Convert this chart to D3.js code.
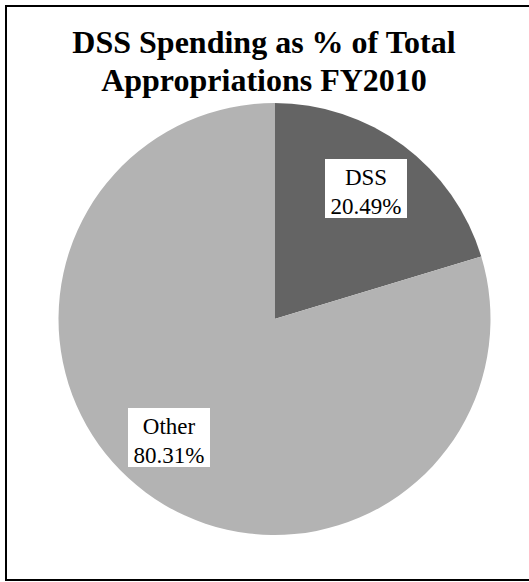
<!DOCTYPE html>
<html>
<head>
<meta charset="utf-8">
<script src="https://cdn.jsdelivr.net/npm/d3@7"></script>
<style>
  html, body { margin: 0; padding: 0; background: #fff; }
  svg { display: block; }
</style>
</head>
<body>
<svg id="chart" width="529" height="582"></svg>
<script>
// Share of FY2010 appropriations
const categories = ["DSS", "Other"];
const shares = [20.49, 80.31];
const shareLabels = ["20.49%", "80.31%"];
const titleLines = ["DSS Spending as % of Total", "Appropriations FY2010"];

const svg = d3.select("#chart");

// outer frame
svg.append("rect")
  .attr("x", 6).attr("y", 6)
  .attr("width", 530).attr("height", 574)
  .attr("fill", "#fff")
  .attr("stroke", "#000")
  .attr("stroke-width", 2);

// title
const title = svg.append("text")
  .attr("text-anchor", "middle")
  .attr("font-family", "'Liberation Serif', 'Times New Roman', serif")
  .attr("font-weight", "bold")
  .attr("font-size", 32)
  .attr("fill", "#000");
titleLines.forEach((t, i) => {
  title.append("tspan")
    .attr("x", 264)
    .attr("y", 53 + i * 38)
    .text(t);
});

// pie
const cx = 274.5, cy = 319, r = 216;
const color = d3.scaleOrdinal().domain(categories).range(["#646464", "#b3b3b3"]);
const pie = d3.pie().sort(null).value(d => d.value);
const data = categories.map((c, i) => ({ name: c, value: shares[i], label: shareLabels[i] }));
const arcs = pie(data);
const arc = d3.arc().innerRadius(0).outerRadius(r);

const g = svg.append("g").attr("transform", `translate(${cx},${cy})`);
g.selectAll("path.slice")
  .data(arcs)
  .join("path")
  .attr("class", "slice")
  .attr("d", arc)
  .attr("fill", d => color(d.data.name));

// data labels in white boxes
const labelPos = {
  DSS: [366, 188.5],
  Other: [169, 437.5]
};
const labels = svg.selectAll("g.lbl")
  .data(arcs)
  .join("g")
  .attr("class", "lbl")
  .attr("transform", d => `translate(${labelPos[d.data.name][0]},${labelPos[d.data.name][1]})`);

labels.append("rect")
  .attr("x", -41).attr("y", -29.5)
  .attr("width", 82).attr("height", 59)
  .attr("fill", "#fff");

const lt = labels.append("text")
  .attr("text-anchor", "middle")
  .attr("font-family", "'Liberation Serif', 'Times New Roman', serif")
  .attr("font-size", 23)
  .attr("fill", "#000");
lt.append("tspan").attr("x", 0).attr("y", -3.5).text(d => d.data.name);
lt.append("tspan").attr("x", 0).attr("y", 25).text(d => d.data.label);
</script>
</body>
</html>
